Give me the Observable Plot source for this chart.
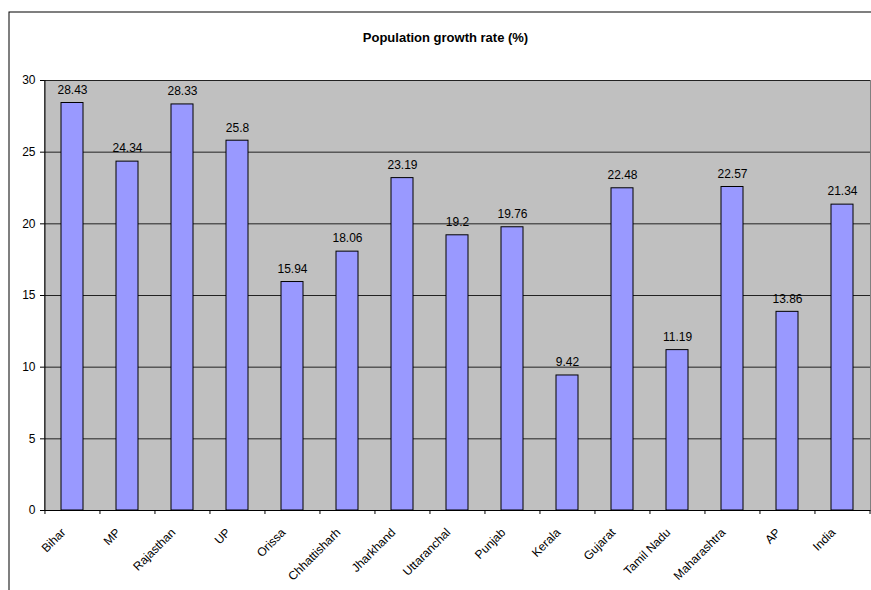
<!DOCTYPE html>
<html><head><meta charset="utf-8">
<script src="https://cdn.jsdelivr.net/npm/d3@7"></script>
<script src="https://cdn.jsdelivr.net/npm/@observablehq/plot@0.6"></script>
<style>
html,body{margin:0;padding:0;background:#fff;overflow:hidden;}
#wrap{width:871px;height:590px;overflow:hidden;}
#wrap svg{display:block;overflow:hidden;}
</style></head>
<body><div id="wrap"></div>
<script>
const states = ["Bihar","MP","Rajasthan","UP","Orissa","Chhattisharh","Jharkhand","Uttaranchal","Punjab","Kerala","Gujarat","Tamil Nadu","Maharashtra","AP","India"];
const growth = [28.43,24.34,28.33,25.8,15.94,18.06,23.19,19.2,19.76,9.42,22.48,11.19,22.57,13.86,21.34];
const yTicks = [0,5,10,15,20,25,30];
const title = "Population growth rate (%)";

const data = states.map((s,i)=>({state:s, value:growth[i]}));
const W=871, H=590, mL=44, mR=1, mT=80, mB=80;
const bw = (W-mL-mR)/states.length;

const chart = Plot.plot({
  width:W, height:H, marginLeft:mL, marginRight:mR, marginTop:mT, marginBottom:mB,
  style:{fontFamily:"'Liberation Sans', Arial, sans-serif", fontSize:"12px", background:"#fff", color:"#000", overflow:"hidden"},
  x:{domain:states, paddingInner:0.6, paddingOuter:0.3, label:null},
  y:{domain:[0,30], label:null},
  marks:[
    Plot.frame({stroke:"#000", fill:"none", insetLeft:-(mL-8.5), insetTop:-(mT-11.5), insetRight:-300, insetBottom:-300}),
    Plot.frame({fill:"#c0c0c0", stroke:"#808080"}),
    Plot.gridY(yTicks, {stroke:"#222", strokeOpacity:1}),
    Plot.barY(data,{x:"state", y:"value", fill:"#9999ff", stroke:"#000", strokeWidth:1}),
    Plot.text(data,{x:"state", y:"value", text:d=>String(d.value), dy:-13, fill:"#000", fontSize:12}),
    Plot.ruleY([0], {stroke:"#000"}),
    Plot.ruleX([states[0]], {dx:-bw/2, stroke:"#000"}),
    Plot.axisY(yTicks, {tickSize:4, tickPadding:5, fontSize:12, label:null}),
    Plot.axisX(states, {tickSize:4, tickFormat:()=>"", dx:-bw/2, label:null}),
    Plot.axisX([states[states.length-1]], {tickSize:4, tickFormat:()=>"", dx:bw/2, label:null}),
    Plot.axisX(states, {tickSize:0, tickRotate:-45, tickPadding:20, dx:-9, fontSize:12, label:null}),
    Plot.text([title], {frameAnchor:"top", dy:-43, dx:-12, lineAnchor:"middle", fontWeight:"bold", fontSize:13, fill:"#000"})
  ]
});
document.getElementById("wrap").appendChild(chart);
</script>
</body></html>
